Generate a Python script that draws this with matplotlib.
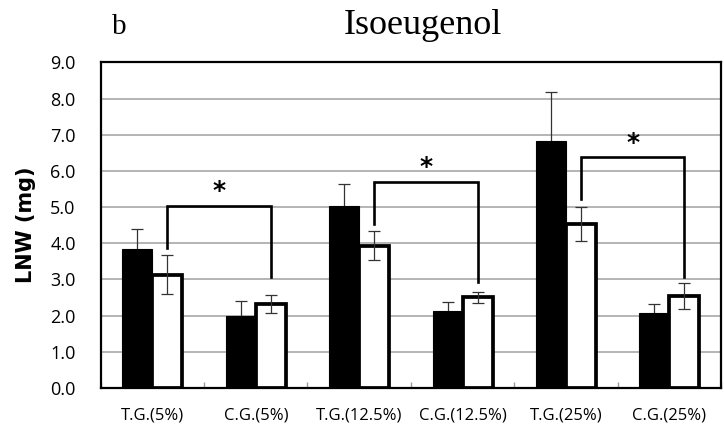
import matplotlib
matplotlib.use("Agg")
import matplotlib.pyplot as plt
import numpy as np

# group labels along the x axis
groups = ["T.G.(5%)", "C.G.(5%)", "T.G.(12.5%)", "C.G.(12.5%)", "T.G.(25%)", "C.G.(25%)"]

# mean LNW (mg) and SD for the filled and open bars
black_vals = [3.85, 1.98, 5.02, 2.12, 6.82, 2.08]
black_err = [0.55, 0.42, 0.62, 0.25, 1.35, 0.24]
white_vals = [3.13, 2.31, 3.93, 2.50, 4.52, 2.54]
white_err = [0.53, 0.25, 0.40, 0.14, 0.47, 0.37]

# significance brackets between open bars of paired groups
bracket_pairs = [(0, 1), (2, 3), (4, 5)]
bracket_top = [5.02, 5.69, 6.37]
bracket_left_end = [3.88, 4.54, 5.23]
bracket_right_end = [3.07, 2.92, 3.07]

y_ticks = np.arange(0, 9.5, 1.0)

fig = plt.figure(figsize=(7.24, 4.30), dpi=100)
ax = fig.add_axes([0.139, 0.098, 0.857, 0.757])

x = np.arange(len(groups))
w = 0.29
xb = x - w / 2
xw = x + w / 2

ax.bar(xb, black_vals, width=w, color="black", edgecolor="black", linewidth=0.8, zorder=3)
ax.errorbar(xb, black_vals, yerr=black_err, fmt="none", ecolor="#333333",
            elinewidth=0.9, capsize=4, capthick=0.9, zorder=2)
ax.bar(xw, white_vals, width=w, color="white", edgecolor="black", linewidth=2.7, zorder=3)
ax.errorbar(xw, white_vals, yerr=white_err, fmt="none", ecolor="#333333",
            elinewidth=0.9, capsize=4, capthick=0.9, zorder=4)

for (i, j), top, lo_l, lo_r in zip(bracket_pairs, bracket_top, bracket_left_end, bracket_right_end):
    ax.plot([xw[i], xw[i], xw[j], xw[j]], [lo_l, top, top, lo_r],
            color="black", linewidth=1.9, solid_joinstyle="miter", zorder=5)
    ax.text((xw[i] + xw[j]) / 2, top + 0.08, "*", ha="center", va="bottom",
            fontsize=18, fontweight="bold", family="DejaVu Sans", zorder=5)

ax.set_xlim(-0.5, len(groups) - 0.5)
ax.set_ylim(0, 9)
ax.set_yticks(y_ticks)
ax.set_yticklabels([f"{v:.1f}" for v in y_ticks], family="Open Sans", fontsize=13)
ax.set_xticks(x)
ax.set_xticklabels(groups, family="Open Sans", fontsize=12)
ax.set_xticks(np.arange(-0.5, len(groups), 1.0), minor=True)
ax.tick_params(axis="x", which="major", length=0, pad=14)
ax.tick_params(axis="x", which="minor", direction="in", length=4, color="#9a9a9a", width=1)
ax.tick_params(axis="y", length=0, pad=18)

ax.yaxis.grid(True, color="#a8a8a8", linewidth=1.2, zorder=0)
ax.set_axisbelow(True)
for s in ax.spines.values():
    s.set_color("black")
    s.set_linewidth(1.6)

ax.set_ylabel("LNW (mg)", family="DejaVu Sans", fontweight="bold", fontsize=15, labelpad=10)

fig.text(112 / 724, 1 - 34 / 430, "b", family="Liberation Serif", fontsize=21,
         ha="left", va="baseline")
fig.text(423 / 724, 1 - 34 / 430, "Isoeugenol", family="Liberation Serif", fontsize=26,
         ha="center", va="baseline")

fig.savefig("out.png", dpi=100)
